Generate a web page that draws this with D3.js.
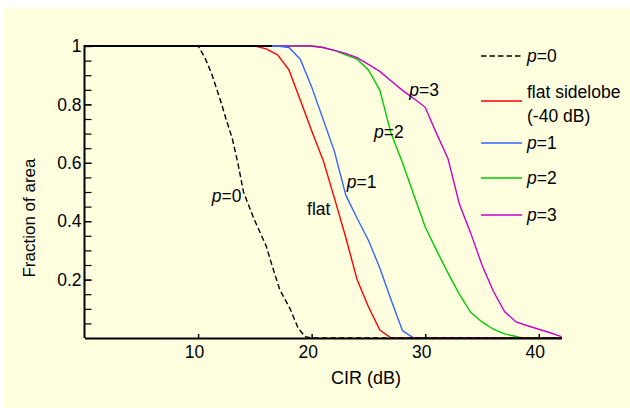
<!doctype html>
<html>
<head>
<script src="https://d3js.org/d3.v7.min.js"></script>
<style>
  body { margin: 0; background: #fff; }
  text { font-family: Arial, "Liberation Sans", sans-serif; fill: #000; }
</style>
</head>
<body>
<script>
// CIR (dB) vs fraction of area
var p0Data = [[0,1],[10,1],[10.6,0.96],[11.2,0.905],[12,0.81],[12.5,0.745],[13,0.685],[13.5,0.6],[14,0.5],[14.9,0.41],[16,0.315],[16.5,0.25],[17.2,0.165],[18.1,0.1],[18.8,0.035],[19.4,0.005],[20,0],[42,0]];
var flatData = [[0,1],[15,1],[16,0.99],[17,0.97],[18,0.918],[19,0.815],[20,0.71],[21,0.61],[22,0.48],[23,0.345],[24,0.2],[25,0.107],[26,0.027],[27,0],[42,0]];
var p1Data = [[0,1],[17,1],[18,0.995],[19,0.955],[20,0.86],[21,0.75],[22,0.64],[23,0.49],[24,0.41],[25,0.335],[26,0.24],[27,0.13],[28,0.025],[29,0],[42,0]];
var p2Data = [[0,1],[20,1],[21,0.995],[22,0.985],[23,0.97],[24,0.955],[25,0.918],[26,0.849],[27,0.7],[28,0.6],[29,0.49],[30,0.38],[31,0.3],[32,0.223],[33,0.15],[34,0.088],[35,0.055],[36,0.03],[37,0.014],[38,0.005],[38.5,0],[42,0]];
var p3Data = [[0,1],[20,1],[21,0.995],[22,0.985],[23,0.975],[24,0.96],[25,0.937],[26,0.913],[27,0.88],[28,0.848],[29,0.82],[30,0.79],[31,0.7],[32,0.615],[33,0.46],[34,0.36],[35,0.25],[36,0.16],[37,0.09],[38,0.055],[39,0.042],[40,0.03],[41,0.018],[42,0.005]];
var topRun = [[0,1],[16.5,1]];

var xTicks = [10, 20, 30, 40];
var yTicks = [0.2, 0.4, 0.6, 0.8, 1];

var series = [
  {name: "p=2", data: p2Data, color: "#00cc00", dash: null},
  {name: "p=3", data: p3Data, color: "#cc00cc", dash: null},
  {name: "p=1", data: p1Data, color: "#3366ff", dash: null},
  {name: "flat", data: flatData, color: "#ff0000", dash: null},
  {name: "p=0", data: p0Data, color: "#000000", dash: "5.5,3"}
];

var legendItems = [
  {label: ["p=0"], color: "#000000", dash: "5.5,3"},
  {label: ["flat sidelobe", "(-40 dB)"], color: "#ff0000", dash: null},
  {label: ["p=1"], color: "#3366ff", dash: null},
  {label: ["p=2"], color: "#00cc00", dash: null},
  {label: ["p=3"], color: "#cc00cc", dash: null}
];
var legendY = [56, 101, 143, 178, 215];

var curveLabels = [
  {text: "p=0", x: 11.2, y: 0.465},
  {text: "flat", x: 19.6, y: 0.42},
  {text: "p=1", x: 23.1, y: 0.512},
  {text: "p=2", x: 25.5, y: 0.685},
  {text: "p=3", x: 28.6, y: 0.83}
];

var W = 630, H = 408;
var svg = d3.select("body").append("svg")
    .attr("width", W)
    .attr("height", H);

svg.append("rect")
    .attr("x", 4).attr("y", 8)
    .attr("width", W - 4).attr("height", H - 8)
    .attr("fill", "#ffffe0");

var x = d3.scaleLinear().domain([0, 42]).range([84.5, 561.5]);
var y = d3.scaleLinear().domain([0, 1]).range([338, 46]);

var line = d3.line()
    .x(function(d) { return x(d[0]); })
    .y(function(d) { return y(d[1]); });

series.forEach(function(s) {
  svg.append("path")
     .datum(s.data)
     .attr("d", line)
     .attr("fill", "none")
     .attr("stroke", s.color)
     .attr("stroke-width", 1.4)
     .attr("stroke-dasharray", s.dash);
});

svg.append("path")
   .datum(topRun)
   .attr("d", line)
   .attr("fill", "none")
   .attr("stroke", "#000")
   .attr("stroke-width", 2);

// axes
var xAxis = svg.append("g")
    .attr("transform", "translate(0," + y(0) + ")")
    .call(d3.axisBottom(x).tickValues(xTicks).tickSizeInner(-4).tickSizeOuter(0).tickPadding(0).tickFormat(d3.format("d")));
xAxis.select(".domain").attr("stroke-width", 2);
xAxis.selectAll(".tick line").attr("stroke-width", 1.5);
xAxis.selectAll("text")
    .attr("font-size", "17.5px")
    .attr("font-family", "Arial, 'Liberation Sans', sans-serif")
    .attr("dy", null)
    .attr("y", 20)
    .attr("x", -4);

var yMinor = d3.range(0.05, 1.0001, 0.05);
var yMinorAxis = svg.append("g")
    .attr("transform", "translate(" + x(0) + ",0)")
    .call(d3.axisLeft(y).tickValues(yMinor).tickSizeInner(-7).tickSizeOuter(0).tickFormat(""));
yMinorAxis.select(".domain").remove();
yMinorAxis.selectAll(".tick line").attr("stroke-width", 1.2);

var yAxis = svg.append("g")
    .attr("transform", "translate(" + x(0) + ",0)")
    .call(d3.axisLeft(y).tickValues(yTicks).tickSizeInner(-7).tickSizeOuter(0).tickPadding(-3)
          .tickFormat(function(d) { return d === 1 ? "1" : d3.format(".1f")(d); }));
yAxis.select(".domain").attr("stroke-width", 2).attr("d", "M0,45V338");
yAxis.selectAll(".tick line").attr("stroke-width", 1.2);
yAxis.selectAll("text")
    .attr("font-size", "17.5px")
    .attr("font-family", "Arial, 'Liberation Sans', sans-serif")
    .attr("x", -3);

svg.append("text")
   .attr("x", 366).attr("y", 384)
   .attr("text-anchor", "middle")
   .attr("font-size", "18px")
   .text("CIR (dB)");

svg.append("text")
   .attr("transform", "translate(35,218) rotate(-90)")
   .attr("text-anchor", "middle")
   .attr("font-size", "17px")
   .text("Fraction of area");

function pLabel(sel, txt) {
  if (txt.charAt(0) === "p" && txt.charAt(1) === "=") {
    sel.append("tspan").attr("font-style", "italic").text("p");
    sel.append("tspan").text(txt.slice(1));
  } else {
    sel.text(txt);
  }
}

curveLabels.forEach(function(c) {
  var t = svg.append("text")
     .attr("x", x(c.x)).attr("y", y(c.y))
     .attr("font-size", "17.5px");
  pLabel(t, c.text);
});

// legend
legendItems.forEach(function(it, i) {
  var ly = legendY[i];
  svg.append("line")
     .attr("x1", 481).attr("x2", 522)
     .attr("y1", ly).attr("y2", ly)
     .attr("stroke", it.color)
     .attr("stroke-width", 1.4)
     .attr("stroke-dasharray", it.dash);
  var ty = it.label.length > 1 ? ly - 3 : ly + 6;
  it.label.forEach(function(l, k) {
    var t = svg.append("text")
       .attr("x", 527).attr("y", ty + k * 23.5)
       .attr("font-size", "17.5px");
    pLabel(t, l);
  });
});
</script>
</body>
</html>
